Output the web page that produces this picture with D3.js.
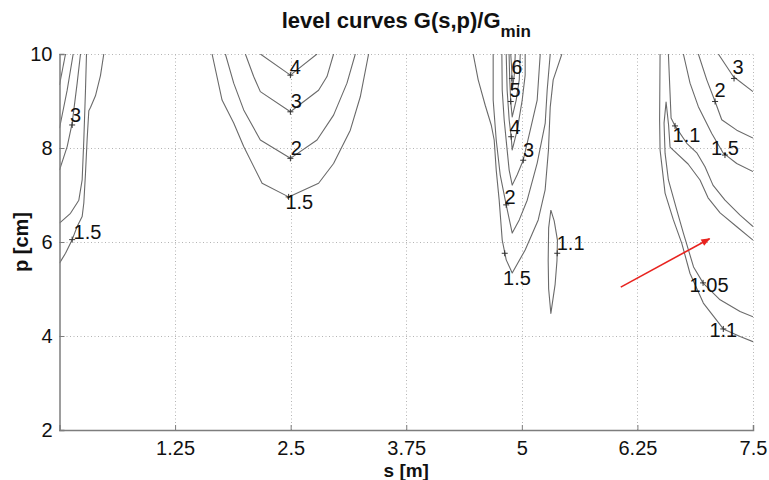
<!DOCTYPE html>
<html><head><meta charset="utf-8">
<script src="https://cdn.jsdelivr.net/npm/d3@7"></script>
<style>
body{margin:0;background:#fff;}
svg{display:block;font-family:"Liberation Sans",Arial,Helvetica,sans-serif;}
</style></head><body>
<svg id="chart" width="769" height="480"></svg>
<script>
// Axis ticks
const sTicks = [1.25, 2.5, 3.75, 5, 6.25, 7.5];
const pTicks = [2, 4, 6, 8, 10];

// Level curves of G(s,p)/Gmin, grouped by the valley they surround.
// Each point is [s in m, p in cm].
const leftValley = [
  {level: 5,   pts: [[0.065,10],[0,9.34]]},
  {level: 4,   pts: [[0.148,10],[0.083,9.23],[0,8.42]]},
  {level: 3,   pts: [[0.227,10],[0.191,9.38],[0.137,8.53],[0.083,8.03],[0,7.53]]},
  {level: 2,   pts: [[0.292,10],[0.281,9.23],[0.263,8.17],[0.245,7.32],[0.209,6.89],[0.119,6.61],[0,6.40]]},
  {level: 1.5, pts: [[0.479,10],[0.443,9.54],[0.389,9.11],[0.335,8.86],[0.317,8.79],[0.299,8.19],[0.281,7.46],[0.263,6.83],[0.245,6.54],[0.191,6.33],[0.137,6.05],[0.065,5.76],[0,5.55]]}
];

const secondValley = [
  {level: 4,   pts: [[2.172,10],[2.497,9.55],[2.785,10]]},
  {level: 3,   pts: [[2.010,10],[2.100,9.52],[2.172,9.20],[2.497,8.77],[2.802,9.23],[2.893,9.52],[2.964,10]]},
  {level: 2,   pts: [[1.794,10],[1.884,9.38],[1.992,8.81],[2.172,8.17],[2.497,7.78],[2.785,8.17],[2.964,8.70],[3.109,9.38],[3.199,10]]},
  {level: 1.5, pts: [[1.650,10],[1.758,9.02],[1.884,8.53],[1.992,8.03],[2.191,7.25],[2.478,6.96],[2.802,7.25],[2.964,7.67],[3.145,8.38],[3.253,9.09],[3.343,10]]}
];

const thirdValley = [
  {level: 6,   pts: [[4.880,10],[4.891,9.66],[4.896,9.23],[4.918,9.55],[4.929,10]]},
  {level: 5,   pts: [[4.862,10],[4.869,9.45],[4.880,8.98],[4.896,8.66],[4.939,9.02],[4.972,9.45],[4.983,10]]},
  {level: 4,   pts: [[4.831,10],[4.841,9.23],[4.863,8.60],[4.885,8.23],[4.896,7.96],[4.950,8.38],[5.004,9.02],[5.036,9.55],[5.036,10]]},
  {level: 3,   pts: [[4.784,10],[4.788,9.23],[4.809,8.60],[4.841,7.96],[4.863,7.53],[4.896,7.21],[4.950,7.43],[5.015,7.74],[5.091,8.38],[5.166,9.02],[5.199,10]]},
  {level: 2,   pts: [[4.690,10],[4.690,9.02],[4.723,8.17],[4.766,7.43],[4.831,6.79],[4.896,6.19],[4.972,6.47],[5.058,6.89],[5.166,7.68],[5.253,8.53],[5.274,9.23],[5.307,10]]},
  {level: 1.5, pts: [[4.474,10],[4.528,9.45],[4.604,8.91],[4.669,8.49],[4.701,8.17],[4.723,7.53],[4.755,6.89],[4.788,6.04],[4.831,5.62],[4.896,5.34],[5.036,5.83],[5.177,6.47],[5.252,7.11],[5.288,7.96],[5.307,8.87],[5.339,9.45],[5.433,10]]},
  {level: 1.1, pts: [[5.314,6.68],[5.35,6.45],[5.385,6.04],[5.38,5.6],[5.36,5.1],[5.314,4.48],[5.29,5.0],[5.285,5.6],[5.29,6.3],[5.314,6.68]]}
];

const rightValley = [
  {level: 3,    pts: [[7.125,10],[7.287,9.52],[7.5,9.20]]},
  {level: 2,    pts: [[6.909,10],[7.0,9.45],[7.09,8.99],[7.162,8.60],[7.324,8.38],[7.5,8.21]]},
  {level: 1.5,  pts: [[6.747,10],[6.819,9.38],[6.909,8.88],[7.054,8.31],[7.179,7.89],[7.324,7.67],[7.5,7.50]]},
  {level: 1.1,  pts: [[6.585,10],[6.603,9.16],[6.614,8.64],[6.657,8.47],[6.784,8.10],[6.895,7.89],[6.981,7.60],[7.067,7.21],[7.197,6.89],[7.36,6.57],[7.5,6.33]]},
  {level: 1.05, pts: [[7.5,6.04],[7.328,6.32],[7.144,6.62],[7.014,6.94],[6.927,7.32],[6.798,7.66],[6.603,8.02],[6.587,8.49],[6.56,8.98],[6.538,8.53],[6.549,7.89],[6.585,7.32],[6.676,6.68],[6.747,6.19],[6.857,5.47],[6.963,5.12],[7.144,4.77],[7.36,4.52],[7.5,4.41]]},
  {level: 1.1,  pts: [[6.495,10],[6.49,8.6],[6.495,7.96],[6.549,7.04],[6.639,6.47],[6.73,5.97],[6.819,5.33],[6.963,4.70],[7.179,4.15],[7.36,3.99],[7.5,3.88]]}
];

// Height labels: "+" on the curve, and where the value text sits
const levelLabels = [
  {text: "3",    mark: [0.137,8.49], pos: [0.173,8.70]},
  {text: "1.5",  mark: [0.137,6.05], pos: [0.303,6.22]},
  {text: "4",    mark: [2.497,9.55], pos: [2.551,9.73]},
  {text: "3",    mark: [2.497,8.77], pos: [2.561,8.99]},
  {text: "2",    mark: [2.497,7.78], pos: [2.561,8.00]},
  {text: "1.5",  mark: [2.478,6.96], pos: [2.594,6.86]},
  {text: "6",    mark: [4.893,9.48], pos: [4.947,9.73]},
  {text: "5",    mark: [4.880,8.99], pos: [4.928,9.23]},
  {text: "4",    mark: [4.885,8.24], pos: [4.928,8.45]},
  {text: "3",    mark: [5.015,7.74], pos: [5.072,7.96]},
  {text: "2",    mark: [4.831,6.79], pos: [4.874,6.96]},
  {text: "1.5",  mark: [4.815,5.76], pos: [4.947,5.23]},
  {text: "1.1",  mark: [5.383,5.76], pos: [5.528,5.97]},
  {text: "3",    mark: [7.295,9.48], pos: [7.338,9.73]},
  {text: "2",    mark: [7.090,8.99], pos: [7.144,9.23]},
  {text: "1.5",  mark: [7.197,7.85], pos: [7.197,7.99]},
  {text: "1.1",  mark: [6.657,8.47], pos: [6.781,8.28]},
  {text: "1.05", mark: [6.960,5.13], pos: [7.025,5.09]},
  {text: "1.1",  mark: [7.179,4.15], pos: [7.179,4.12]}
];

// Annotation arrow, [s, p] from tail to head
const arrowFrom = [6.07, 5.04];
const arrowTo = [7.03, 6.07];

const svg = d3.select("#chart");
const x = d3.scaleLinear().domain([0, 7.5]).range([59.5, 753]);
const y = d3.scaleLinear().domain([2, 10]).range([430, 54]);

// Dotted grid
const grid = svg.append("g").attr("stroke", "#b4b4b4").attr("stroke-width", 1)
  .attr("stroke-dasharray", "1,2.5");
grid.selectAll("line.v").data(sTicks).join("line").attr("class", "v")
  .attr("x1", d => Math.round(x(d)) + 0.5).attr("x2", d => Math.round(x(d)) + 0.5)
  .attr("y1", y(2)).attr("y2", y(10));
grid.selectAll("line.h").data(pTicks.filter(d => d > 2)).join("line").attr("class", "h")
  .attr("y1", d => Math.round(y(d)) + 0.5).attr("y2", d => Math.round(y(d)) + 0.5)
  .attr("x1", x(0)).attr("x2", x(7.5));

// Contour lines
svg.append("clipPath").attr("id", "plotArea").append("rect")
  .attr("x", x(0)).attr("y", y(10)).attr("width", x(7.5) - x(0)).attr("height", y(2) - y(10));
const line = d3.line().x(d => x(d[0])).y(d => y(d[1]));
const allCurves = [...leftValley, ...secondValley, ...thirdValley, ...rightValley];
svg.append("g").attr("clip-path", "url(#plotArea)")
  .selectAll("path").data(allCurves).join("path")
  .attr("d", d => line(d.pts))
  .attr("fill", "none").attr("stroke", "#6a6a6a").attr("stroke-width", 1.1)
  .attr("stroke-linejoin", "round");

// Label markers and values
svg.append("g").selectAll("path").data(levelLabels).join("path")
  .attr("transform", d => `translate(${x(d.mark[0])},${y(d.mark[1])})`)
  .attr("d", "M-3,0H3M0,-3V3").attr("stroke", "#333").attr("stroke-width", 1);
svg.append("g").selectAll("text").data(levelLabels).join("text")
  .attr("x", d => x(d.pos[0])).attr("y", d => y(d.pos[1]))
  .attr("text-anchor", "middle").attr("dominant-baseline", "central")
  .attr("font-size", 20).attr("fill", "#111").text(d => d.text);

// Axes (left and bottom only, ticks pointing inward)
const axisColor = "#7d7d7d";
const xAxis = svg.append("g").attr("transform", `translate(0,${y(2)})`)
  .call(d3.axisBottom(x).tickValues(sTicks).tickSize(-5).tickPadding(11).tickFormat(d => String(d)));
const yAxis = svg.append("g").attr("transform", `translate(${x(0)},0)`)
  .call(d3.axisLeft(y).tickValues(pTicks).tickSize(-5).tickPadding(7).tickFormat(d => String(d)));
[xAxis, yAxis].forEach(a => {
  a.select(".domain").attr("stroke", axisColor).attr("stroke-width", 1.5);
  a.selectAll(".tick line").attr("stroke", axisColor);
  a.selectAll("text").attr("font-size", 20).attr("fill", "#111")
    .attr("font-family", "'Liberation Sans', Arial, sans-serif");
});

// Axis titles
svg.append("text").attr("x", (x(0) + x(7.5)) / 2).attr("y", 477)
  .attr("text-anchor", "middle").attr("font-weight", "bold").attr("font-size", 19)
  .attr("fill", "#111").text("s [m]");
svg.append("text").attr("transform", `translate(28,${(y(2) + y(10)) / 2}) rotate(-90)`)
  .attr("text-anchor", "middle").attr("font-weight", "bold").attr("font-size", 20)
  .attr("fill", "#111").text("p [cm]");

// Title with subscript
const title = svg.append("text").attr("x", (x(0) + x(7.5)) / 2).attr("y", 28)
  .attr("text-anchor", "middle").attr("font-weight", "bold").attr("font-size", 22).attr("fill", "#111");
title.append("tspan").text("level curves G(s,p)/G");
title.append("tspan").attr("dy", 9).attr("font-size", 17).text("min");

// Red arrow
svg.append("defs").append("marker").attr("id", "head")
  .attr("viewBox", "0 0 10 10").attr("refX", 9).attr("refY", 5)
  .attr("markerWidth", 10).attr("markerHeight", 9).attr("orient", "auto")
  .attr("markerUnits", "userSpaceOnUse")
  .append("path").attr("d", "M0,1L10,5L0,9Z").attr("fill", "#e8231f");
svg.append("line")
  .attr("x1", x(arrowFrom[0])).attr("y1", y(arrowFrom[1]))
  .attr("x2", x(arrowTo[0])).attr("y2", y(arrowTo[1]))
  .attr("stroke", "#e8231f").attr("stroke-width", 1.6).attr("marker-end", "url(#head)");
</script>
</body></html>
